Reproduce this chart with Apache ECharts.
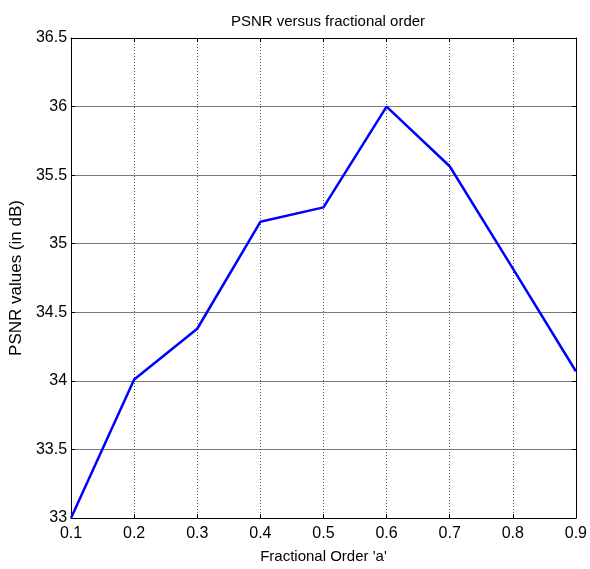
<!DOCTYPE html>
<html>
<head>
<meta charset="utf-8">
<script src="https://cdn.jsdelivr.net/npm/echarts@6/dist/echarts.min.js"></script>
<style>
  html, body { margin: 0; padding: 0; background: #fff; }
  #chart { width: 590px; height: 569px; }
</style>
</head>
<body>
<div id="chart"></div>
<script>
// Fractional order values and the PSNR measured at each
var orders = ['0.1', '0.2', '0.3', '0.4', '0.5', '0.6', '0.7', '0.8', '0.9'];
var psnr = [33.0, 34.01, 34.38, 35.16, 35.265, 36.0, 35.565, 34.82, 34.07];

var FONT = '"Liberation Sans", Arial, sans-serif';
var chart = echarts.init(document.getElementById('chart'));

var frameLine = { show: true, onZero: false, lineStyle: { color: '#000', width: 1 } };
var innerTick = { show: true, inside: true, length: 4, lineStyle: { color: '#000' } };

chart.setOption({
  animation: false,
  backgroundColor: '#fff',
  title: {
    text: 'PSNR versus fractional order',
    left: 323, top: 9, textAlign: 'center',
    textStyle: { fontFamily: FONT, fontSize: 15, fontWeight: 'normal', color: '#000' }
  },
  grid: { left: 71, right: 12, top: 38, bottom: 49, containLabel: false },
  xAxis: [{
    type: 'category',
    data: orders,
    boundaryGap: false,
    name: "Fractional Order 'a'",
    nameLocation: 'middle',
    nameGap: 31,
    nameTextStyle: { fontFamily: FONT, fontSize: 15, color: '#000' },
    axisLine: frameLine,
    axisTick: innerTick,
    axisLabel: { fontFamily: FONT, fontSize: 16, color: '#000', margin: 8 },
    splitLine: { show: true, lineStyle: { color: '#555', type: [1, 2], width: 1 } }
  }, {
    type: 'category',
    data: orders,
    boundaryGap: false,
    position: 'top',
    axisLine: frameLine,
    axisTick: innerTick,
    axisLabel: { show: false },
    splitLine: { show: false }
  }],
  yAxis: [{
    type: 'value',
    min: 33, max: 36.5, interval: 0.5,
    name: 'PSNR values (in dB)',
    nameLocation: 'middle',
    nameGap: 44,
    nameTextStyle: { fontFamily: FONT, fontSize: 17, color: '#000' },
    axisLine: frameLine,
    axisTick: innerTick,
    axisLabel: { fontFamily: FONT, fontSize: 16, color: '#000', margin: 4 },
    splitLine: { show: true, lineStyle: { color: '#7a7a7a', width: 1 } }
  }, {
    type: 'value',
    min: 33, max: 36.5, interval: 0.5,
    position: 'right',
    axisLine: frameLine,
    axisTick: innerTick,
    axisLabel: { show: false },
    splitLine: { show: false }
  }],
  series: [{
    type: 'line',
    data: psnr,
    symbol: 'none',
    lineStyle: { color: '#0000ff', width: 2.5 },
    z: 5
  }]
});
</script>
</body>
</html>
